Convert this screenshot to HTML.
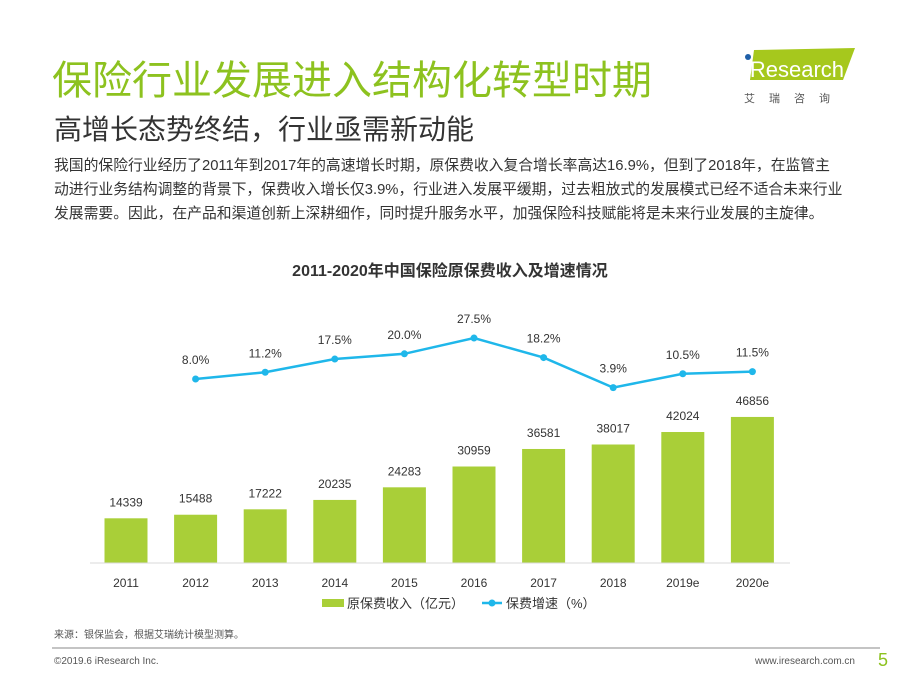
<!DOCTYPE html>
<html><head><meta charset="utf-8"><style>
body{margin:0;width:900px;height:675px;background:#fff;overflow:hidden;position:relative;font-family:"Liberation Sans","Noto Sans CJK SC",sans-serif}
.a{position:absolute;white-space:nowrap}
</style></head><body>
<div class="a" style="left:52px;top:48px;font-size:40px;color:#8dc21f">保险行业发展进入结构化转型时期</div>
<div class="a" style="left:54px;top:108px;font-size:28px;color:#333">高增长态势终结，行业亟需新动能</div>
<div class="a" style="left:54px;top:154px;font-size:14.8px;line-height:24px;color:#333">我国的保险行业经历了2011年到2017年的高速增长时期，原保费收入复合增长率高达16.9%，但到了2018年，在监管主<br>动进行业务结构调整的背景下，保费收入增长仅3.9%，行业进入发展平缓期，过去粗放式的发展模式已经不适合未来行业<br>发展需要。因此，在产品和渠道创新上深耕细作，同时提升服务水平，加强保险科技赋能将是未来行业发展的主旋律。</div>
<div class="a" style="left:742px;top:48px;width:115px;height:44px">
<svg width="115" height="40"><polygon points="12,2 113,0 101,32 8,32" fill="#a6c81d"/><circle cx="6" cy="9" r="3" fill="#1f5fa8"/><text x="3" y="29" font-size="22" fill="#fff" font-family="Liberation Sans">iResearch</text></svg>
<div class="a" style="left:2px;top:42px;font-size:11px;letter-spacing:14px;color:#555">艾瑞咨询</div></div>
<svg class="a" style="left:0;top:0" width="900" height="675">
<text x="450" y="276" text-anchor="middle" font-size="16" font-weight="bold" fill="#333">2011-2020年中国保险原保费收入及增速情况</text>
<g id="g"></g>
<line x1="90" y1="563" x2="790" y2="563" stroke="#d9d9d9"/>
<rect x="322" y="599" width="22" height="8" fill="#a9cf38"/>
<text x="347" y="608" font-size="13" fill="#333">原保费收入（亿元）</text>
<line x1="482" y1="603" x2="502" y2="603" stroke="#1fb7ea" stroke-width="2.5"/><circle cx="492" cy="603" r="3.5" fill="#1fb7ea"/>
<text x="506" y="608" font-size="13" fill="#333">保费增速（%）</text>
<text x="54" y="638" font-size="10" fill="#555">来源：银保监会，根据艾瑞统计模型测算。</text>
<line x1="52" y1="648" x2="880" y2="648" stroke="#888"/>
<text x="54" y="664" font-size="10" fill="#555">©2019.6 iResearch Inc.</text>
<text x="855" y="664" text-anchor="end" font-size="10" fill="#555">www.iresearch.com.cn</text>
<text x="878" y="666" font-size="18" fill="#8dc21f">5</text>
</svg>
<script>
const categories=["2011","2012","2013","2014","2015","2016","2017","2018","2019e","2020e"];
const premiums=[14339,15488,17222,20235,24283,30959,36581,38017,42024,46856];
const growth=[null,8.0,11.2,17.5,20.0,27.5,18.2,3.9,10.5,11.5];
const NS="http://www.w3.org/2000/svg",g=document.getElementById('g');
const xs=i=>126+i*69.6, yb=v=>563-v*0.003117, yl=p=>395.8-p*2.1;
function mk(t,a){const e=document.createElementNS(NS,t);for(const k in a)e.setAttribute(k,a[k]);g.appendChild(e);return e;}
categories.forEach((c,i)=>{
const b=mk('rect',{x:xs(i)-21.5,y:yb(premiums[i]),width:43,height:563-yb(premiums[i]),fill:'#a9cf38'});


const t=mk('text',{x:xs(i),y:yb(premiums[i])-12,'text-anchor':'middle','font-size':12,fill:'#333'});t.textContent=premiums[i];


const l=mk('text',{x:xs(i),y:587,'text-anchor':'middle','font-size':12,fill:'#333'});l.textContent=c;


});
let pts=[];growth.forEach((p,i)=>{if(p!=null)pts.push(xs(i)+','+yl(p));});
const pl=mk('polyline',{points:pts.join(' '),fill:'none',stroke:'#1fb7ea','stroke-width':2.5});


growth.forEach((p,i)=>{if(p==null)return;
const c=mk('circle',{cx:xs(i),cy:yl(p),r:3.5,fill:'#1fb7ea'});


const t=mk('text',{x:xs(i),y:yl(p)-15,'text-anchor':'middle','font-size':12,fill:'#333'});t.textContent=p.toFixed(1)+'%';


});
</script>
</body></html>
